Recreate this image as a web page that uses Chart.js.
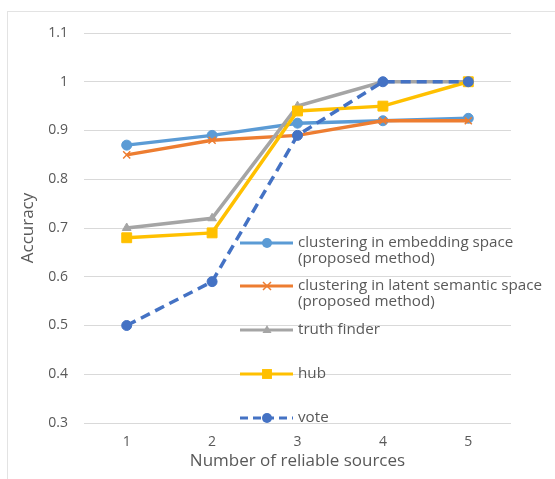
<!DOCTYPE html>
<html>
<head>
<meta charset="utf-8">
<script src="https://cdn.jsdelivr.net/npm/chart.js@4/dist/chart.umd.min.js"></script>
<style>
  html, body { margin: 0; padding: 0; background: #fff; }
  #wrap { position: relative; width: 555px; height: 479px; }
  #frame {
    position: absolute; left: 7px; top: 11px; right: 0; bottom: 0;
    border-top: 1px solid #e3e3e3; border-left: 1px solid #e3e3e3;
  }
  canvas { position: absolute; left: 0; top: 0; }
</style>
</head>
<body>
<div id="wrap">
  <div id="frame"></div>
  <canvas id="accuracyChart" width="555" height="479"></canvas>
</div>
<script>
  const categories = ["1", "2", "3", "4", "5"];
  const embedding = [0.87, 0.89, 0.915, 0.92, 0.925];
  const latent = [0.85, 0.88, 0.89, 0.92, 0.92];
  const truthFinder = [0.7, 0.72, 0.95, 1.0, 1.0];
  const hub = [0.68, 0.69, 0.94, 0.95, 1.0];
  const vote = [0.5, 0.59, 0.89, 1.0, 1.0];

  const fontFamily = "'Open Sans', sans-serif";
  const textColor = "#595959";

  const series = [
    { label: ["clustering in embedding space", "(proposed method)"], data: embedding, color: "#5B9BD5", style: "circle", radius: 5, dash: [] },
    { label: ["clustering in latent semantic space", "(proposed method)"], data: latent, color: "#ED7D31", style: "crossRot", radius: 5, dash: [] },
    { label: ["truth finder"], data: truthFinder, color: "#A5A5A5", style: "triangle", radius: 5, dash: [] },
    { label: ["hub"], data: hub, color: "#FFC000", style: "rect", radius: 7, dash: [] },
    { label: ["vote"], data: vote, color: "#4472C4", style: "circle", radius: 5, dash: [10, 6] },
  ];

  // marker used for the legend samples
  const drawMarker = (ctx, style, x, y, r, color) => {
    ctx.save();
    ctx.fillStyle = color;
    ctx.strokeStyle = color;
    ctx.lineWidth = 1.5;
    ctx.setLineDash([]);
    ctx.beginPath();
    if (style === "circle") {
      ctx.arc(x, y, r, 0, Math.PI * 2);
      ctx.fill();
    } else if (style === "rect") {
      const s = r * Math.SQRT1_2;
      ctx.fillRect(x - s, y - s, s * 2, s * 2);
    } else if (style === "triangle") {
      ctx.moveTo(x, y - r);
      ctx.lineTo(x + r * 0.9, y + r * 0.6);
      ctx.lineTo(x - r * 0.9, y + r * 0.6);
      ctx.closePath();
      ctx.fill();
    } else if (style === "crossRot") {
      const s = r * 0.8;
      ctx.moveTo(x - s, y - s);
      ctx.lineTo(x + s, y + s);
      ctx.moveTo(x + s, y - s);
      ctx.lineTo(x - s, y + s);
      ctx.stroke();
    }
    ctx.restore();
  };

  const legendRows = [243, 286, 330, 374, 418];

  const insideLegend = {
    id: "insideLegend",
    afterDraw: function (chart) {
      const ctx = chart.ctx;
      ctx.save();
      ctx.font = "15.2px " + fontFamily;
      ctx.textBaseline = "middle";
      ctx.fillStyle = textColor;
      series.forEach((s, i) => {
        const y = legendRows[i];
        ctx.save();
        ctx.strokeStyle = s.color;
        ctx.lineWidth = 3;
        ctx.setLineDash(s.dash.length ? [8, 5] : []);
        ctx.beginPath();
        ctx.moveTo(240, y);
        ctx.lineTo(293, y);
        ctx.stroke();
        ctx.restore();
        drawMarker(ctx, s.style, 267, y, s.radius, s.color);
        s.label.forEach((line, j) => {
          ctx.fillText(line, 298, y + j * 15.5);
        });
      });
      ctx.restore();
    },
  };

  const datasets = series.map((s, i) => ({
    label: s.label.join(" "),
    data: s.data,
    borderColor: s.color,
    backgroundColor: s.color,
    borderWidth: 3.5,
    borderDash: s.dash,
    pointStyle: s.style,
    pointRadius: s.radius,
    pointBorderWidth: s.style === "crossRot" ? 1.5 : 1,
    pointBackgroundColor: s.color,
    pointBorderColor: s.color,
    tension: 0,
    order: series.length - i,
  }));

  const ctx = document.getElementById("accuracyChart").getContext("2d");
  new Chart(ctx, {
    type: "line",
    data: { labels: categories, datasets: datasets },
    options: {
      responsive: false,
      animation: false,
      layout: { padding: { top: 33, right: 44, bottom: 0, left: 0 } },
      plugins: {
        legend: { display: false },
        tooltip: { enabled: false },
      },
      scales: {
        x: {
          offset: true,
          grid: { display: false, drawTicks: false },
          border: { display: false },
          ticks: {
            color: textColor,
            padding: 11,
            font: { family: fontFamily, size: 14 },
          },
          title: {
            display: true,
            text: "Number of reliable sources",
            color: textColor,
            padding: { top: 0, bottom: 8 },
            font: { family: fontFamily, size: 17 },
          },
          afterFit: function (scale) {
            scale.height = 56;
          },
        },
        y: {
          min: 0.3,
          max: 1.1,
          grid: { color: "#D9D9D9", lineWidth: 1, drawTicks: false },
          border: { display: false },
          ticks: {
            stepSize: 0.1,
            color: textColor,
            padding: 16,
            font: { family: fontFamily, size: 14 },
            callback: function (value) {
              return Math.round(value * 10) / 10;
            },
          },
          title: {
            display: true,
            text: "Accuracy",
            color: textColor,
            padding: { top: 18, bottom: 0 },
            font: { family: fontFamily, size: 17 },
          },
          afterFit: function (scale) {
            scale.width = 84;
          },
        },
      },
    },
    plugins: [insideLegend],
  });
</script>
</body>
</html>
